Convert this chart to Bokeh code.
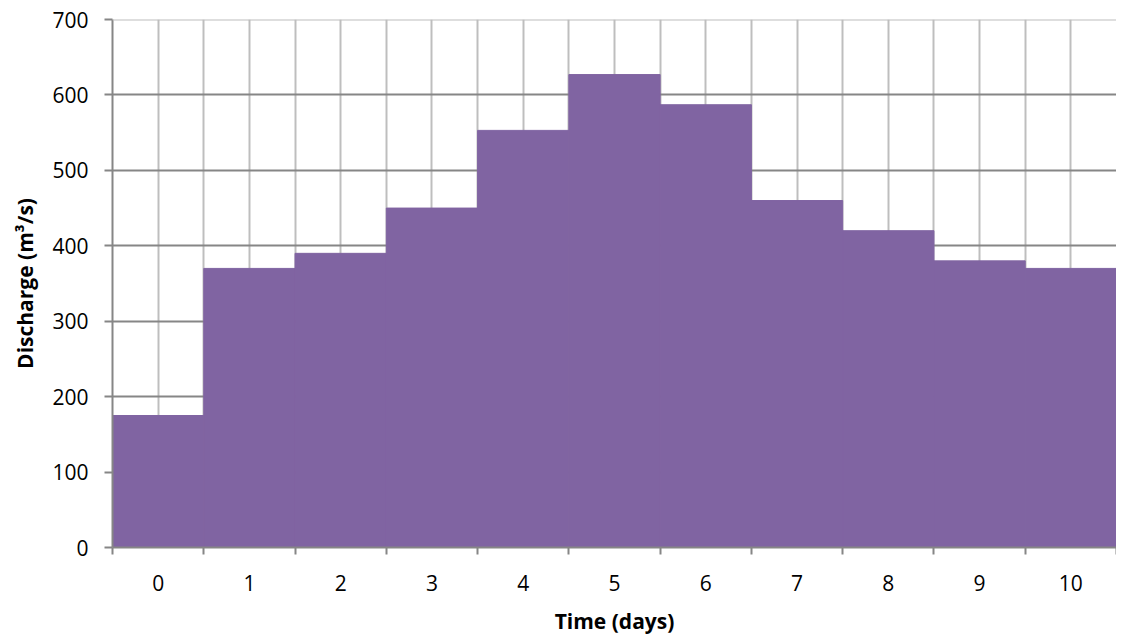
from bokeh.plotting import figure
from bokeh.models import FixedTicker, Span
from bokeh.embed import file_html
from bokeh.resources import INLINE

days = [0, 1, 2, 3, 4, 5, 6, 7, 8, 9, 10]
discharge = [175, 370, 390, 450, 553, 627, 587, 460, 420, 380, 370]
y_ticks = [0, 100, 200, 300, 400, 500, 600, 700]

FONT = "Open Sans"
BAR = "#8064A2"
DARK = "#868686"
LIGHT = "#BEBEBE"

p = figure(frame_width=1004, frame_height=528, output_backend="svg", toolbar_location=None,
           x_range=(-0.5, 10.5), y_range=(0, 700),
           min_border_left=112, min_border_right=0, min_border_top=19, min_border_bottom=76)
p.outline_line_color = None

p.vbar(x=days, top=discharge, width=1.0, bottom=0, fill_color=BAR,
       line_color=BAR, line_width=1)

edges = [d - 0.5 for d in days] + [days[-1] + 0.5]
p.xaxis.ticker = FixedTicker(ticks=days, minor_ticks=edges)
p.yaxis.ticker = FixedTicker(ticks=y_ticks)

p.xgrid.grid_line_color = LIGHT
p.xgrid.grid_line_width = 2
p.xgrid.minor_grid_line_color = LIGHT
p.xgrid.minor_grid_line_width = 2
p.ygrid.ticker = FixedTicker(ticks=y_ticks[1:-1])
p.ygrid.grid_line_color = DARK
p.ygrid.grid_line_width = 2
p.add_layout(Span(location=700, dimension="width", line_color=LIGHT, line_width=2))

for ax in (p.xaxis, p.yaxis):
    ax.axis_line_color = DARK
    ax.axis_line_width = 2
    ax.major_label_text_font = FONT
    ax.major_label_text_font_size = "21px"
    ax.major_label_text_color = "black"
    ax.axis_label_text_font = FONT
    ax.axis_label_text_font_size = "21px"
    ax.axis_label_text_font_style = "bold"
    ax.axis_label_text_color = "black"

p.xaxis.major_tick_line_color = None
p.xaxis.minor_tick_line_color = DARK
p.xaxis.minor_tick_line_width = 2
p.xaxis.minor_tick_out = 7
p.xaxis.minor_tick_in = 0
p.xaxis.major_label_standoff = 20
p.xaxis.axis_label = "Time (days)"
p.xaxis.axis_label_standoff = 13

p.yaxis.major_tick_line_color = DARK
p.yaxis.major_tick_line_width = 2
p.yaxis.major_tick_out = 8
p.yaxis.major_tick_in = 0
p.yaxis.minor_tick_line_color = None
p.yaxis.major_label_standoff = 16
p.yaxis.axis_label = "Discharge (m³/s)"
p.yaxis.axis_label_standoff = 10

open("out.html", "w").write(file_html(p, INLINE))
